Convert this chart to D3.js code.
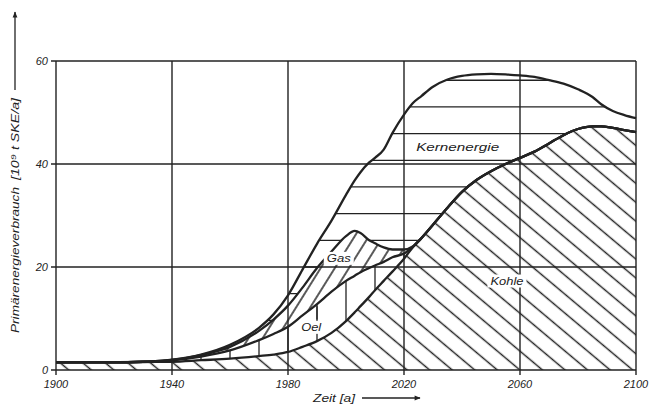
<!DOCTYPE html>
<html>
<head>
<meta charset="utf-8">
<script src="https://cdn.jsdelivr.net/npm/d3@7/dist/d3.min.js"></script>
<style>
    body { margin: 0; background: #fff; }
    text { font-family: "Liberation Sans", Arial, sans-serif; font-style: italic; fill: #222; }
</style>
</head>
<body>
<svg id="chart" width="654" height="406"></svg>
<script>
// Jahre und Beiträge der Energieträger (10^9 t SKE/a)
const years  = [1900,1910,1920,1930,1940,1950,1960,1970,1975,1980,1985,1990,1995,2000,2003,2005,2008,2010,2013,2016,2020,2023,2026,2030,2035,2040,2045,2050,2055,2060,2065,2070,2075,2080,2085,2088,2092,2096,2100];
const kohle  = [1.5,1.5,1.5,1.55,1.6,1.9,2.2,2.7,3.0,3.5,4.5,5.6,7.2,9.5,11.2,12.4,14.2,15.5,17.3,19.1,21.6,23.8,25.6,28.2,31.5,34.6,36.9,38.6,40.0,41.2,42.4,44.0,45.6,46.8,47.3,47.3,47.0,46.6,46.2];
const oel    = [0,0,0,0.05,0.25,0.7,1.6,3.1,4.0,4.9,6.1,7.2,8.0,7.8,7.1,6.6,5.6,4.8,3.7,2.8,1.0,0.1,0,0,0,0,0,0,0,0,0,0,0,0,0,0,0,0,0];
const gas    = [0,0,0,0,0.1,0.3,0.7,1.8,2.8,4.1,5.4,7.0,7.8,8.7,8.7,7.6,5.4,4.3,2.8,1.5,0.8,0.1,0,0,0,0,0,0,0,0,0,0,0,0,0,0,0,0,0];
const kern   = [0,0,0,0,0.05,0.1,0.4,0.6,1.0,2.0,3.5,4.7,6.0,8.0,9.8,11.8,15.1,16.6,19.0,22.6,26.2,27.8,27.6,26.8,24.9,22.5,20.5,18.9,17.4,16.0,14.5,12.3,10.0,7.7,5.7,4.3,3.3,2.9,2.7];
const xTicks = [1900,1940,1980,2020,2060,2100];
const yTicks = [0,20,40,60];

const keys = ["kohle","oel","gas","kern"];
const table = years.map((yr,i) => ({year:yr, kohle:kohle[i], oel:oel[i], gas:gas[i], kern:kern[i]}));

const svg = d3.select("#chart");
const margin = {left:56, right:636, top:61, bottom:370};
const ink = "#222";

const x = d3.scaleLinear().domain([1900,2100]).range([margin.left,margin.right]);
const y = d3.scaleLinear().domain([0,60]).range([margin.bottom,margin.top]);

const series = d3.stack().keys(keys)(table);
const curve = d3.curveMonotoneX;
const area = d3.area()
    .x(d => x(d.data.year))
    .y0(d => y(d[0]))
    .y1(d => y(d[1]))
    .curve(curve);
const topLine = d3.line()
    .x(d => x(d.data.year))
    .y(d => y(d[1]))
    .curve(curve);

const defs = svg.append("defs");
// Schraffuren
function hatch(id, spacing, angle) {
    const p = defs.append("pattern")
        .attr("id", id)
        .attr("patternUnits", "userSpaceOnUse")
        .attr("width", 60).attr("height", spacing)
        .attr("patternTransform", "rotate(" + angle + ")");
    p.append("line")
        .attr("x1", 0).attr("x2", 60)
        .attr("y1", spacing/2).attr("y2", spacing/2)
        .attr("stroke", ink).attr("stroke-width", 1.3);
}
hatch("hatchKohle", 14.5, 40);
hatch("hatchGas", 12, -58);

series.forEach(s => {
    defs.append("clipPath").attr("id", "clip-" + s.key)
        .append("path").attr("d", area(s));
});

const byKey = {};
series.forEach(s => byKey[s.key] = s);

// Kohle
svg.append("path").attr("d", area(byKey.kohle)).attr("fill", "url(#hatchKohle)");
// Gas
svg.append("path").attr("d", area(byKey.gas)).attr("fill", "url(#hatchGas)");

// Oel: senkrechte Striche alle 10 Jahre
svg.append("g").attr("clip-path", "url(#clip-oel)")
    .selectAll("line")
    .data(d3.range(1940, 2030, 10))
    .join("line")
    .attr("x1", d => x(d)).attr("x2", d => x(d))
    .attr("y1", margin.top).attr("y2", margin.bottom)
    .attr("stroke", ink).attr("stroke-width", 1.3);

// Kernenergie: waagerechte Striche
const kernStep = 5.18;
svg.append("g").attr("clip-path", "url(#clip-kern)")
    .selectAll("line")
    .data(d3.range(-3, 8).map(k => 20 + k*kernStep))
    .join("line")
    .attr("x1", margin.left).attr("x2", margin.right)
    .attr("y1", d => y(d)).attr("y2", d => y(d))
    .attr("stroke", ink).attr("stroke-width", 1.3);

// Gitter
svg.append("g").selectAll("line")
    .data(xTicks)
    .join("line")
    .attr("x1", d => x(d)).attr("x2", d => x(d))
    .attr("y1", y(60)).attr("y2", y(0) + 5)
    .attr("stroke", ink).attr("stroke-width", 1.4);
svg.append("g").selectAll("line")
    .data(yTicks)
    .join("line")
    .attr("x1", x(1900) - 5).attr("x2", x(2100))
    .attr("y1", d => y(d)).attr("y2", d => y(d))
    .attr("stroke", ink).attr("stroke-width", 1.4);

// Kurven
svg.append("g").selectAll("path")
    .data(series)
    .join("path")
    .attr("d", topLine)
    .attr("fill", "none")
    .attr("stroke", ink)
    .attr("stroke-width", 2.3);

// Achsenbeschriftung
svg.append("g").selectAll("text")
    .data(xTicks)
    .join("text")
    .attr("x", d => x(d))
    .attr("y", 388)
    .attr("text-anchor", "middle")
    .style("font-size", "11px")
    .text(d => d);
svg.append("g").selectAll("text")
    .data(yTicks)
    .join("text")
    .attr("x", margin.left - 8)
    .attr("y", d => y(d) + 4)
    .attr("text-anchor", "end")
    .style("font-size", "11px")
    .text(d => d);

// Achsentitel
svg.append("text")
    .attr("x", 313).attr("y", 402)
    .attr("textLength", 42).attr("lengthAdjust", "spacingAndGlyphs")
    .style("font-size", "11px")
    .text("Zeit [a]");
defs.append("marker")
    .attr("id", "arrow")
    .attr("viewBox", "0 0 10 10")
    .attr("refX", 9).attr("refY", 5)
    .attr("markerWidth", 9).attr("markerHeight", 6)
    .attr("markerUnits", "userSpaceOnUse")
    .attr("orient", "auto")
    .append("path").attr("d", "M0,1L10,5L0,9Z").attr("fill", ink);
svg.append("line")
    .attr("x1", 362).attr("x2", 420)
    .attr("y1", 398).attr("y2", 398)
    .attr("stroke", ink).attr("stroke-width", 1.3)
    .attr("marker-end", "url(#arrow)");

const yt = svg.append("g").attr("transform", "translate(19,0) rotate(-90)");
yt.append("text")
    .attr("x", -333).attr("y", 0)
    .attr("textLength", 146).attr("lengthAdjust", "spacingAndGlyphs")
    .style("font-size", "11px")
    .text("Primärenergieverbrauch");
yt.append("text")
    .attr("x", -180).attr("y", 0)
    .attr("textLength", 82).attr("lengthAdjust", "spacingAndGlyphs")
    .style("font-size", "11px")
    .text("[10⁹ t SKE/a]");
svg.append("line")
    .attr("x1", 15).attr("x2", 15)
    .attr("y1", 90).attr("y2", 12)
    .attr("stroke", ink).attr("stroke-width", 1.3)
    .attr("marker-end", "url(#arrow)");

// Beschriftung der Flächen
const labels = [
    {text:"Kernenergie", year:2038.5, value:42.6, len:83},
    {text:"Gas", year:1997.5, value:21, len:24},
    {text:"Oel", year:1988, value:7.6, len:20},
    {text:"Kohle", year:2055.5, value:16.6, len:33}
];
const lg = svg.append("g");
labels.forEach(l => {
    lg.append("rect")
        .attr("x", x(l.year) - l.len/2 - 3).attr("y", y(l.value) - 10)
        .attr("width", l.len + 6).attr("height", 13)
        .attr("fill", "#fff");
    lg.append("text")
        .attr("x", x(l.year)).attr("y", y(l.value))
        .attr("text-anchor", "middle")
        .attr("textLength", l.len).attr("lengthAdjust", "spacingAndGlyphs")
        .style("font-size", "10.5px")
        .text(l.text);
});
// Zeigerstrich fuer Oel
svg.append("line")
    .attr("x1", x(1990)).attr("x2", x(1990))
    .attr("y1", y(9.8)).attr("y2", y(12.4))
    .attr("stroke", ink).attr("stroke-width", 1.3);
</script>
</body>
</html>
